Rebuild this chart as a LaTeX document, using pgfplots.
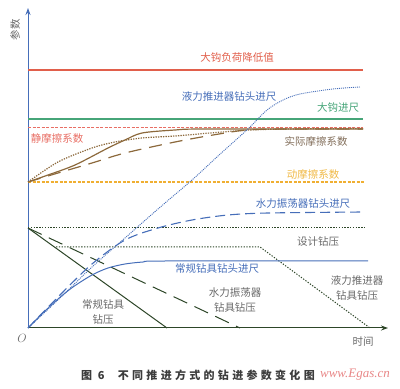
\documentclass[border=0pt]{standalone}
\usepackage{pgfplots}
\pgfplotsset{compat=1.18}
\usetikzlibrary{arrows.meta}
\usepackage{fontspec}
\setmainfont{Noto Sans CJK SC}
\newfontfamily\capfont[LetterSpace=30]{Noto Sans CJK SC}
\newfontfamily\wmfont{Liberation Serif}
\definecolor{redline}{RGB}{225,95,75}
\definecolor{greenline}{RGB}{70,165,120}
\definecolor{reddash}{RGB}{232,110,100}
\definecolor{orangedash}{RGB}{240,175,50}
\definecolor{orangetext}{RGB}{240,185,70}
\definecolor{brownc}{RGB}{140,105,60}
\definecolor{bluec}{RGB}{70,110,185}
\definecolor{darkg}{RGB}{45,70,40}
\definecolor{textg}{RGB}{105,105,105}
\definecolor{browntext}{RGB}{130,110,90}
\begin{document}
\begin{tikzpicture}
\path[use as bounding box] (0,0) rectangle (400pt,389pt);
\begin{axis}[
  at={(28pt,61pt)}, anchor=origin,
  x=1pt, y=1pt,
  xmin=0, xmax=360, ymin=0, ymax=320,
  axis lines=left,
  xtick=\empty, ytick=\empty,
  every outer x axis line/.append style={darkg, line width=1pt, -{Stealth[length=7pt,width=5pt]}},
  every outer y axis line/.append style={bluec, line width=1pt, -{Stealth[length=7pt,width=5pt]}},
  clip=false,
  font=\fontsize{10.5}{15}\selectfont,
]
% horizontal reference lines
\addplot[redline, line width=1.2pt] coordinates {(0,258) (335,258)};
\addplot[greenline, line width=1.2pt] coordinates {(0,209) (335,209)};
\addplot[reddash, line width=1.1pt, dash pattern=on 3pt off 1.5pt] coordinates {(0,200.5) (335,200.5)};
\addplot[orangedash, line width=1.1pt, dash pattern=on 3pt off 1.5pt] coordinates {(0,146) (337,146)};
\addplot[darkg, line width=1pt, dash pattern=on 1.3pt off 1.5pt] coordinates {(0,100) (337,100)};
% friction curves
\addplot[brownc, line width=1.2pt, smooth] coordinates {(0,146) (20,153) (47,163) (80,180) (97,188) (114,195) (147,198) (175,199) (335,199)};
\addplot[brownc, line width=1.2pt, dash pattern=on 1.3pt off 1.2pt, smooth] coordinates {(0,146) (30,166) (64,180) (87,186) (114,190) (147,192) (182,195) (222,198) (260,199) (335,199.5)};
\addplot[brownc, line width=1.2pt, dash pattern=on 13pt off 8pt, smooth] coordinates {(0,146) (30,155) (64,165) (97,175) (147,186) (185,193) (219,198) (260,199) (335,199)};
% drill pressure
\addplot[darkg, line width=1pt] coordinates {(0,100) (139,0)};
\addplot[darkg, line width=1pt, dash pattern=on 15pt off 8pt] coordinates {(0,100) (212,0)};
\addplot[darkg, line width=1pt, dash pattern=on 1.3pt off 1.5pt] coordinates {(28,81) (232,81) (342,0)};
% footage curves
\addplot[bluec, line width=1pt, smooth] coordinates {(0,0) (15,15) (30,29) (45,41) (64,53) (80,60) (97,64) (115,66) (137,67) (340,67)};
\addplot[bluec, line width=1.1pt, dash pattern=on 10pt off 5pt, smooth] coordinates {(0,0) (30,31) (64,64) (97,88) (130,100) (164,108) (200,113) (240,115) (335,116)};
\addplot[bluec, line width=0.9pt, dash pattern=on 1pt off 1pt, smooth] coordinates {(0,0) (32,30) (64,61) (97,90) (130,119) (164,148) (190,172) (210,190) (222,201) (239,218) (255,228) (272,234) (305,239) (332,241)};
% labels
\node[text=redline] at (axis cs:209,270) {大钩负荷降低值};
\node[text=bluec] at (axis cs:201,231) {液力推进器钻头进尺};
\node[text=greenline] at (axis cs:310,220) {大钩进尺};
\node[text=reddash] at (axis cs:29,190) {静摩擦系数};
\node[text=browntext] at (axis cs:288,187) {实际摩擦系数};
\node[text=orangetext] at (axis cs:285,154) {动摩擦系数};
\node[text=bluec] at (axis cs:275,124) {水力振荡器钻头进尺};
\node[text=textg] at (axis cs:290,86) {设计钻压};
\node[text=bluec] at (axis cs:189,59) {常规钻具钻头进尺};
\node[text=textg, align=center] at (axis cs:329,40) {液力推进器\\钻具钻压};
\node[text=textg, align=center] at (axis cs:207,28) {水力振荡器\\钻具钻压};
\node[text=textg, align=center] at (axis cs:75,16) {常规钻具\\钻压};
\node[text=textg] at (axis cs:-6,-10) {\fontsize{12}{14}\selectfont$O$};
\node[text=textg] at (axis cs:335,-14) {时间};
\node[text=textg, rotate=90] at (axis cs:-13,298) {参数};
\node[text={rgb,255:red,60;green,60;blue,60}] at (axis cs:170,-47) {\capfont\bfseries\fontsize{11}{13}\selectfont 图 6\hspace{1.2em}不同推进方式的钻进参数变化图};
\node[text={rgb,255:red,232;green,135;blue,135}] at (axis cs:327,-47) {\wmfont\itshape\fontsize{13}{15}\selectfont www.Egas.cn};
\end{axis}
\end{tikzpicture}
\end{document}
